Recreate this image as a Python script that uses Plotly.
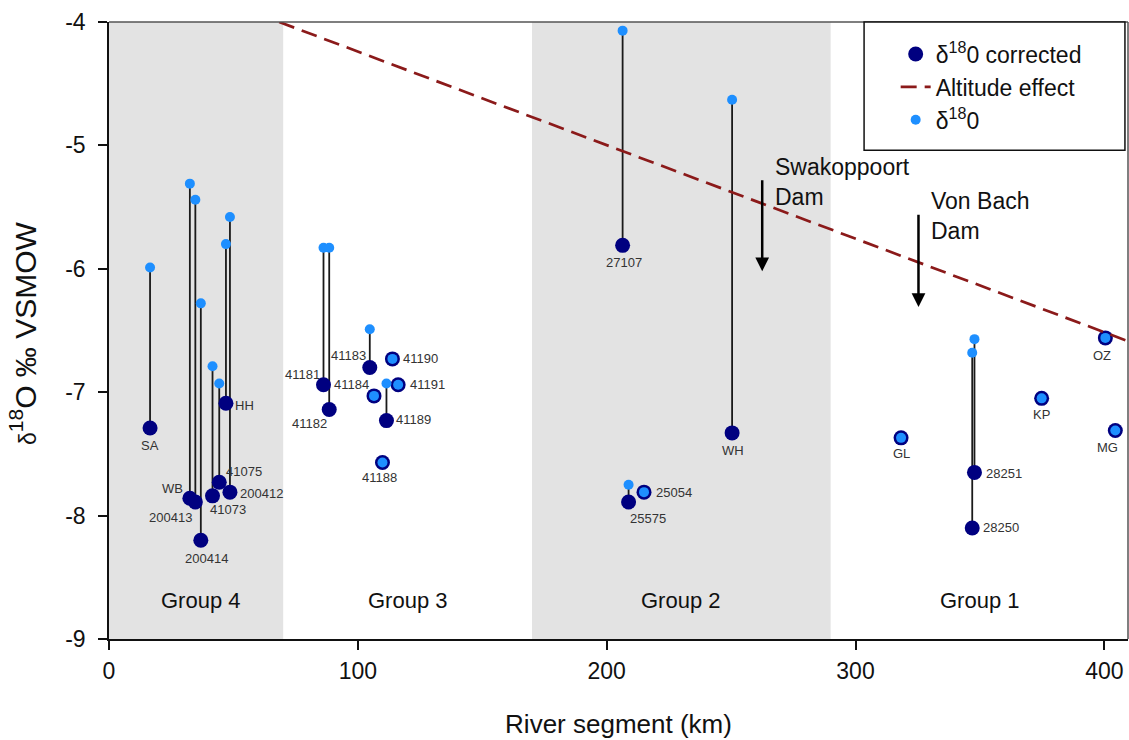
import plotly.graph_objects as go

# ---------------- data ----------------
site_names = ["SA", "WB", "200413", "200414", "41073", "41075", "HH", "200412",
              "41181", "41182", "41183", "41184", "41190", "41191", "41189", "41188",
              "27107", "WH", "25054", "25575",
              "GL", "28251", "28250", "KP", "OZ", "MG"]
river_km = [16.5, 32.5, 34.7, 36.9, 41.6, 44.3, 47.0, 48.6,
            86.2, 88.5, 104.8, 106.5, 113.9, 116.2, 111.5, 109.9,
            206.4, 250.4, 215.0, 208.8,
            318.3, 347.8, 346.9, 374.8, 400.4, 404.4]
d18o = [-5.99, -5.31, -5.44, -6.28, -6.79, -6.93, -5.80, -5.58,
        -5.83, -5.83, -6.49, -7.03, -6.73, -6.94, -6.93, -7.57,
        -4.07, -4.63, -7.81, -7.75,
        -7.37, -6.57, -6.68, -7.05, -6.56, -7.31]
d18o_corrected = [-7.29, -7.86, -7.89, -8.20, -7.84, -7.73, -7.09, -7.81,
                  -6.94, -7.14, -6.80, -7.03, -6.73, -6.94, -7.23, -7.57,
                  -5.81, -7.33, -7.81, -7.89,
                  -7.37, -7.65, -8.10, -7.05, -6.56, -7.31]

altitude_km = [68.4, 410.0]
altitude_d18o = [-4.0, -6.59]

group_names = ["Group 4", "Group 3", "Group 2", "Group 1"]
group_center_km = [37, 120, 230, 350]
group_label_y = -8.69
shaded_bands = [(0, 70), (170, 290)]

dams = ["Swakoppoort<br>Dam", "Von Bach<br>Dam"]
dam_km = [262.5, 325.3]
dam_arrow_top = [-5.27, -5.55]
dam_arrow_tip = [-6.02, -6.31]
dam_text_y = [-5.05, -5.33]

x_ticks = [0, 100, 200, 300, 400]
x_tick_text = ["0", "100", "200", "300", "400"]
y_ticks = [-9, -8, -7, -6, -5, -4]
y_tick_text = ["-9", "-8", "-7", "-6", "-5", "-4"]

# label placement (anchor, xshift, yshift) in pixels
label_pos = {
    "SA": ("center", 0, -18), "WB": ("right", -5, 10), "200413": ("right", -1, -15),
    "200414": ("center", 6, -18), "41073": ("left", -5, -14), "41075": ("left", 5, 11),
    "HH": ("left", 7, -2), "200412": ("left", 8, -1),
    "41181": ("right", -2, 10), "41182": ("right", 0, -14), "41183": ("right", -2, 12),
    "41184": ("right", -3, 11), "41190": ("left", 9, 0), "41191": ("left", 10, 0),
    "41189": ("left", 8, 1), "41188": ("center", -3, -15),
    "27107": ("center", 1, -17), "WH": ("center", 1, -18), "25054": ("left", 10, 0),
    "25575": ("left", -1, -16),
    "GL": ("center", 0, -16), "28251": ("left", 10, -1), "28250": ("left", 9, 0),
    "KP": ("center", 0, -16), "OZ": ("center", -3, -18), "MG": ("center", -8, -17),
}

NAVY = "#000080"
LIGHT = "#1E8FFF"
FONT = "Liberation Sans, Arial, sans-serif"

fig = go.Figure()

# connectors between measured and corrected
cx, cy = [], []
for k, a, b in zip(river_km, d18o, d18o_corrected):
    if abs(a - b) > 1e-9:
        cx += [k, k, None]
        cy += [a, b, None]
fig.add_trace(go.Scatter(x=cx, y=cy, mode="lines", line=dict(color="#1a1a1a", width=1.8),
                         showlegend=False, hoverinfo="skip"))

fig.add_trace(go.Scatter(x=river_km, y=d18o_corrected, mode="markers",
                         marker=dict(color=NAVY, size=15),
                         name="δ<sup>18</sup>0 corrected", text=site_names))
fig.add_trace(go.Scatter(x=altitude_km, y=altitude_d18o, mode="lines",
                         line=dict(color="#8B1A1A", width=2.7, dash="16px,8px"),
                         name="Altitude effect"))
fig.add_trace(go.Scatter(x=river_km, y=d18o, mode="markers",
                         marker=dict(color=LIGHT, size=10),
                         name="δ<sup>18</sup>0", text=site_names))

shapes = []
for x0, x1 in shaded_bands:
    shapes.append(dict(type="rect", xref="x", yref="paper", x0=x0, x1=x1, y0=0, y1=1,
                       fillcolor="#e3e3e3", line=dict(width=0), layer="below"))
# frame top / right
shapes.append(dict(type="line", xref="paper", yref="paper", x0=0, x1=1, y0=1, y1=1,
                   line=dict(color="#555555", width=1.5)))
shapes.append(dict(type="line", xref="paper", yref="paper", x0=1, x1=1, y0=0, y1=1,
                   line=dict(color="#555555", width=1.5)))
# legend box
shapes.append(dict(type="rect", xref="paper", yref="paper", x0=0.741, x1=0.997,
                   y0=0.792, y1=1.0, fillcolor="white", line=dict(color="#111111", width=1.5),
                   layer="above"))

annotations = []
for n, k, v in zip(site_names, river_km, d18o_corrected):
    anc, xs, ys = label_pos[n]
    annotations.append(dict(x=k, y=v, text=n, showarrow=False, xanchor=anc, yanchor="middle",
                            xshift=xs, yshift=ys, font=dict(size=13, color="#333333", family=FONT)))
for g, c in zip(group_names, group_center_km):
    annotations.append(dict(x=c, y=group_label_y, text=g, showarrow=False,
                            font=dict(size=22, color="#111111", family=FONT)))
for t, k, y0, y1, ty in zip(dams, dam_km, dam_arrow_top, dam_arrow_tip, dam_text_y):
    annotations.append(dict(x=k, y=y1, ax=k, ay=y0, axref="x", ayref="y", text="",
                            showarrow=True, arrowhead=2, arrowsize=1.1, arrowwidth=2.5,
                            arrowcolor="black"))
    annotations.append(dict(x=k, y=ty, text=t, showarrow=False, xanchor="left", yanchor="top",
                            xshift=11, align="left",
                            font=dict(size=23, color="#111111", family=FONT)))
# y-axis title
annotations.append(dict(xref="paper", yref="paper", x=0, y=0.496, xanchor="center",
                        yanchor="middle", xshift=-86, textangle=-90, showarrow=False,
                        text='<span style="font-size:23px">δ</span><sup>18</sup>O ‰ VSMOW',
                        font=dict(size=30, color="#111111", family=FONT)))

fig.update_layout(
    width=1129, height=740,
    margin=dict(l=109, r=1, t=22, b=101),
    paper_bgcolor="white", plot_bgcolor="white",
    font=dict(family=FONT, color="#111111"),
    shapes=shapes, annotations=annotations,
    legend=dict(x=0.772, y=0.983, xanchor="left", yanchor="top", bgcolor="rgba(0,0,0,0)",
                borderwidth=0, font=dict(size=23, family=FONT, color="#111111"),
                traceorder="normal"),
    xaxis=dict(range=[0, 409.5], tickvals=x_ticks, ticktext=x_tick_text, showgrid=False,
               zeroline=False, showline=True, linecolor="#111111", linewidth=1.5,
               ticks="outside", ticklen=9, tickwidth=1.5, tickcolor="#111111",
               tickfont=dict(size=23), ticklabelstandoff=2,
               title=dict(text="River segment (km)", font=dict(size=26), standoff=31),
               automargin=False),
    yaxis=dict(range=[-9, -4], tickvals=y_ticks, ticktext=y_tick_text, showgrid=False,
               zeroline=False, showline=True, linecolor="#111111", linewidth=1.5,
               ticks="outside", ticklen=9, tickwidth=1.5, tickcolor="#111111",
               tickfont=dict(size=23), ticklabelstandoff=8,
               automargin=False),
)

fig.write_html("out.html", config={"displayModeBar": False},
               post_script="document.body.style.margin='0';document.body.style.overflow='hidden';")
